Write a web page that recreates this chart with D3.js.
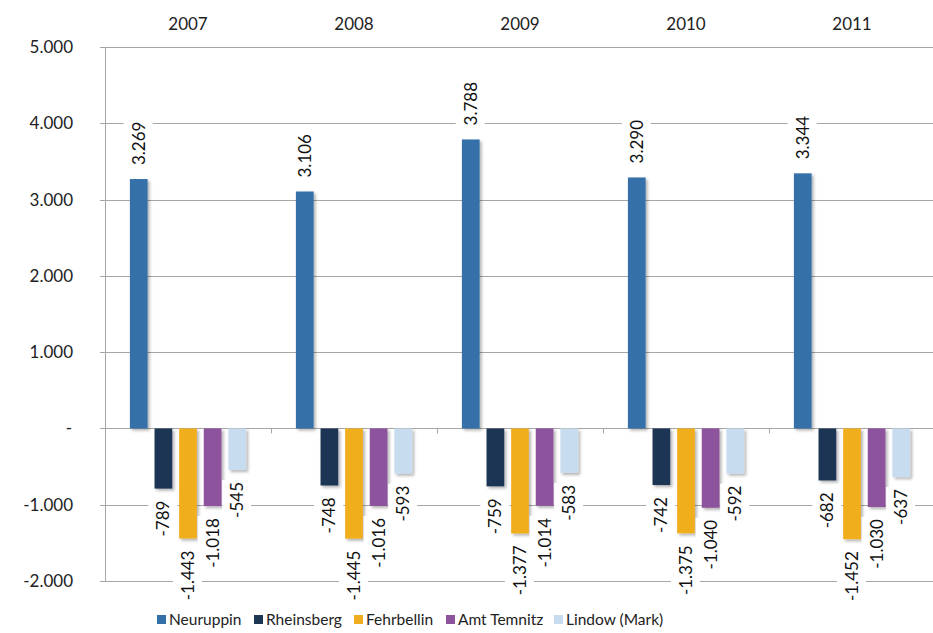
<!DOCTYPE html>
<html lang="de">
<head>
<meta charset="UTF-8">
<title>Bevölkerungssaldo</title>
<script src="https://d3js.org/d3.v7.min.js"></script>
<style>
  body { margin: 0; background: #fff; font-family: "Lato", "Open Sans", sans-serif; }
  svg { display: block; }
  .grid line { stroke: #a6a6a6; stroke-width: 1; }
  .axis text { fill: #222; font-size: 17px; }
</style>
</head>
<body>
<div id="chart"></div>
<script>
// data
const years = ["2007", "2008", "2009", "2010", "2011"];
const seriesNames = ["Neuruppin", "Rheinsberg", "Fehrbellin", "Amt Temnitz", "Lindow (Mark)"];
const neuruppin = [3269, 3106, 3788, 3290, 3344];
const rheinsberg = [-789, -748, -759, -742, -682];
const fehrbellin = [-1443, -1445, -1377, -1375, -1452];
const temnitz = [-1018, -1016, -1014, -1040, -1030];
const lindow = [-545, -593, -583, -592, -637];
const colors = ["#3470a8", "#1d3654", "#f0ad1f", "#8d539c", "#c8dcef"];
const yTicks = [-2000, -1000, 0, 1000, 2000, 3000, 4000, 5000];

const allSeries = [neuruppin, rheinsberg, fehrbellin, temnitz, lindow];
const rows = [];
years.forEach((yr, i) => {
  seriesNames.forEach((s, j) => rows.push({ year: yr, series: s, value: allSeries[j][i] }));
});

const w = 933, h = 633;
const plotLeft = 105, plotRight = 935, plotTop = 47, plotBottom = 581;

const de = d3.formatLocale({ decimal: ",", thousands: ".", grouping: [3], currency: ["", " €"], minus: "-" });
const fmt = de.format(",d");

const svg = d3.select("#chart").append("svg").attr("width", w).attr("height", h);

const defs = svg.append("defs");
const shadow = defs.append("filter").attr("id", "shadow")
  .attr("x", "-30%").attr("y", "-10%").attr("width", "160%").attr("height", "130%");
shadow.append("feDropShadow").attr("dx", 2).attr("dy", 2).attr("stdDeviation", 1.4)
  .attr("flood-color", "#000").attr("flood-opacity", 0.3);

const y = d3.scaleLinear().domain([-2000, 5000]).range([plotBottom, plotTop]);
const x0 = d3.scaleBand().domain(years).range([plotLeft, plotRight]).paddingInner(0.3).paddingOuter(0.15);
const x1 = d3.scaleBand().domain(seriesNames).range([0, x0.bandwidth()]).paddingInner(0.28);
const color = d3.scaleOrdinal().domain(seriesNames).range(colors);

// gridlines
svg.append("g").attr("class", "grid")
  .selectAll("line").data(yTicks).join("line")
  .attr("x1", plotLeft - 5).attr("x2", plotRight)
  .attr("y1", d => Math.round(y(d)) + 0.5).attr("y2", d => Math.round(y(d)) + 0.5);

// y axis line
svg.append("line").attr("x1", plotLeft + 0.5).attr("x2", plotLeft + 0.5)
  .attr("y1", y(5000)).attr("y2", y(-2000)).attr("stroke", "#a6a6a6");

// y tick labels
svg.append("g").attr("class", "axis")
  .selectAll("text").data(yTicks).join("text")
  .attr("x", 73).attr("y", d => y(d)).attr("dy", "0.35em")
  .attr("text-anchor", d => d === 0 ? "middle" : "end")
  .attr("dx", d => d === 0 ? -4 : 0)
  .text(d => d === 0 ? "-" : fmt(d));

// category ticks on the zero line
const bounds = years.map(yr => x0(yr) - x0.step() * x0.paddingInner() / 2).slice(1);
svg.append("g").selectAll("line").data(bounds).join("line")
  .attr("x1", d => Math.round(d) + 0.5).attr("x2", d => Math.round(d) + 0.5)
  .attr("y1", y(0)).attr("y2", y(0) + 5).attr("stroke", "#a6a6a6");

// year labels on top
svg.append("g").attr("class", "axis")
  .selectAll("text").data(years).join("text")
  .attr("x", d => x0(d) + x0.bandwidth() / 2).attr("y", 30)
  .attr("text-anchor", "middle").style("font-size", "17px")
  .text(d => d);

// bars
svg.append("g").selectAll("rect").data(rows).join("rect")
  .attr("x", d => x0(d.year) + x1(d.series))
  .attr("width", x1.bandwidth())
  .attr("y", d => y(Math.max(0, d.value)))
  .attr("height", d => Math.abs(y(d.value) - y(0)))
  .attr("fill", d => color(d.series))
  .attr("filter", "url(#shadow)");

// data labels (rotated, white background)
const labels = svg.append("g").selectAll("g").data(rows).join("g")
  .attr("transform", d => {
    const cx = x0(d.year) + x1(d.series) + x1.bandwidth() / 2;
    const cy = d.value >= 0 ? y(d.value) - 14 : y(d.value) + 12;
    return `translate(${cx},${cy}) rotate(-90)`;
  });
labels.append("text")
  .attr("text-anchor", d => d.value >= 0 ? "start" : "end")
  .attr("dy", "0.35em")
  .style("font-size", "17px").attr("fill", "#111")
  .text(d => fmt(d.value));
labels.each(function () {
  const g = d3.select(this);
  const bb = g.select("text").node().getBBox();
  g.insert("rect", "text")
    .attr("x", bb.x - 2).attr("y", bb.y - 4)
    .attr("width", bb.width + 4).attr("height", bb.height + 8)
    .attr("fill", "#fff");
});

// legend
const legendX = [157, 254, 354, 446, 554];
const legend = svg.append("g").selectAll("g").data(seriesNames).join("g")
  .attr("transform", (d, i) => `translate(${legendX[i]},620)`);
legend.append("rect").attr("x", 0).attr("y", -5).attr("width", 9).attr("height", 9)
  .attr("fill", d => color(d));
legend.append("text").attr("x", 12).attr("dy", "0.35em")
  .style("font-size", "15.5px").attr("fill", "#222").text(d => d);
</script>
</body>
</html>
